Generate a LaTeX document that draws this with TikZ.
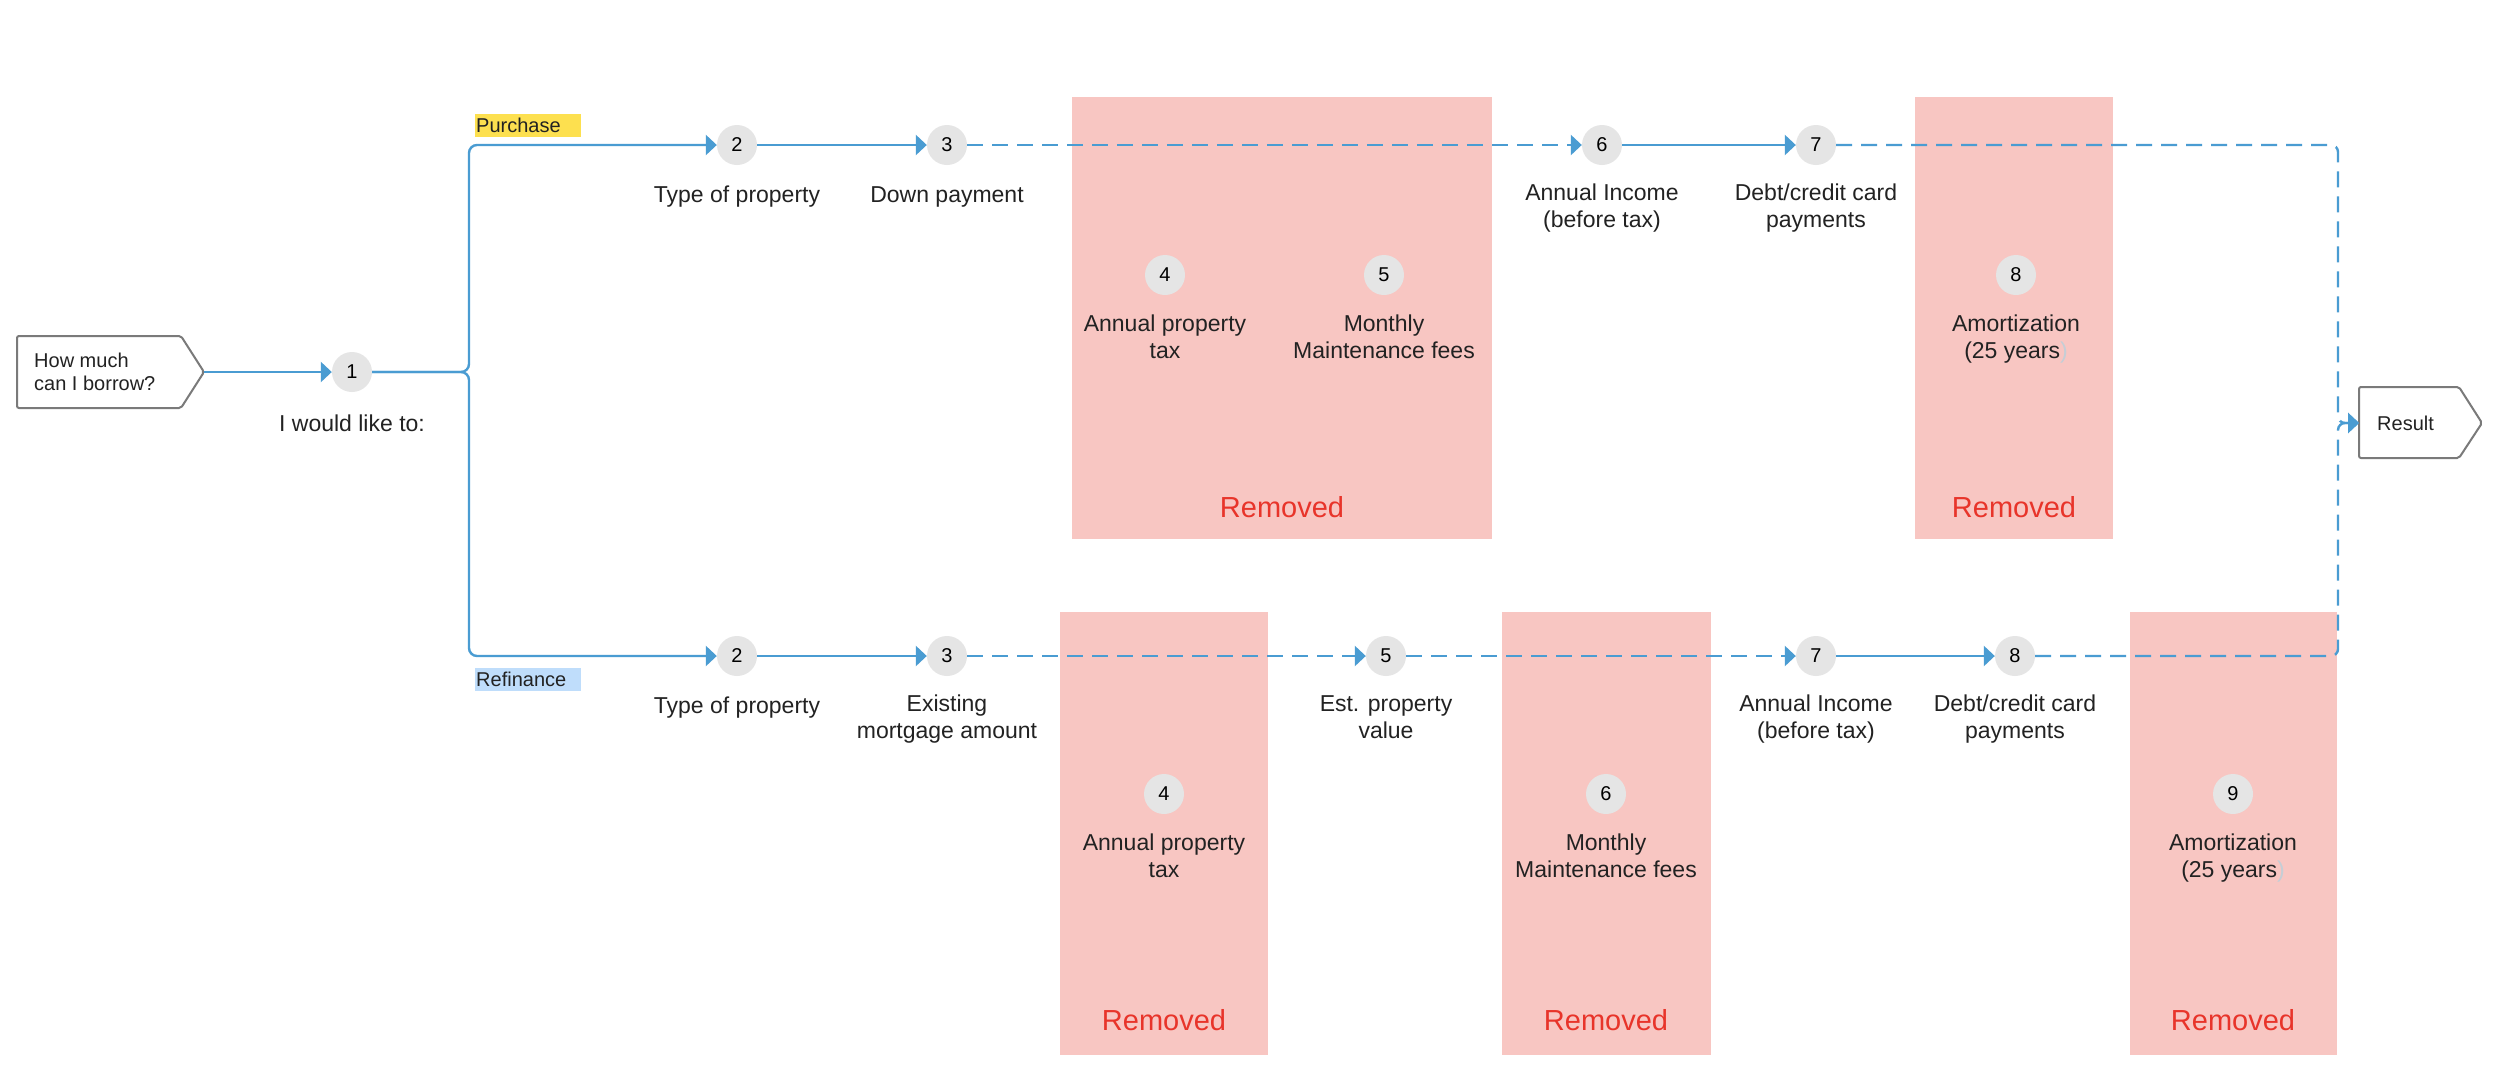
\documentclass[tikz,border=0pt]{standalone}
\usepackage{fontspec}
\setmainfont{Liberation Sans}
\usetikzlibrary{arrows.meta}
\definecolor{flowblue}{HTML}{4A9CD2}
\definecolor{numgray}{HTML}{E5E5E5}
\definecolor{zonered}{HTML}{F8C6C2}
\definecolor{remred}{HTML}{E8342A}
\definecolor{tagyellow}{HTML}{FDE04F}
\definecolor{tagblue}{HTML}{BFDDFB}
\definecolor{txt}{HTML}{222222}
\definecolor{boxgray}{HTML}{7A7A7A}
\definecolor{faint}{HTML}{C5CED6}
\begin{document}
\begin{tikzpicture}[x=1pt,y=-1pt,
  num/.style={circle, fill=numgray, minimum size=40pt, inner sep=0pt, text=black, font=\fontsize{20}{24}\selectfont},
  lbl/.style={align=center, anchor=north, inner sep=0pt, text=txt, font=\fontsize{23}{27}\selectfont, execute at begin node={\rule{0pt}{18pt}}},
  removed/.style={inner sep=0pt, text=remred, font=\fontsize{29}{34}\selectfont},
  redzone/.style={fill=zonered, draw=none},
  tag/.style={anchor=north west, inner xsep=1pt, inner ysep=0pt, minimum height=23pt, text width=104pt, align=left, text=txt, font=\fontsize{20}{24}\selectfont},
  termbox/.style={draw=boxgray, fill=white, line width=2pt, rounded corners=2pt},
  connector/.style={draw=flowblue, line width=2.4pt},
  flow/.style={connector, -{Triangle[length=11pt,width=20pt]}},
  dflow/.style={flow, dash pattern=on 16pt off 9pt},
]
\useasboundingbox (0,0) rectangle (2500,1085);
\fill[white] (0,0) rectangle (2500,1085);

% removed zones
\fill[redzone] (1072,97) rectangle (1492,539);
\fill[redzone] (1915,97) rectangle (2113,539);
\fill[redzone] (1060,612) rectangle (1268,1055);
\fill[redzone] (1502,612) rectangle (1711,1055);
\fill[redzone] (2130,612) rectangle (2337,1055);

\node[removed] (remA) at (1282,507) {Removed};
\node[removed] (remB) at (2014,507) {Removed};
\node[removed] (remC) at (1164,1020) {Removed};
\node[removed] (remD) at (1606,1020) {Removed};
\node[removed] (remE) at (2233,1020) {Removed};

% start and result boxes
\draw[termbox] (17,336) -- (181,336) -- (204,372) -- (181,408) -- (17,408) -- cycle;
\coordinate (start) at (204,372);
\node[anchor=west, align=left, inner sep=0pt, text=txt, font=\fontsize{20}{23}\selectfont] (q) at (34,372) {How much\\can I borrow?};

\draw[termbox] (2359,387) -- (2459,387) -- (2482,423) -- (2459,458) -- (2359,458) -- cycle;
\coordinate (result) at (2359,423);
\node[anchor=west, inner sep=0pt, text=txt, font=\fontsize{20}{24}\selectfont] (restext) at (2377,423) {Result};

% tags
\node[tag, fill=tagyellow] (purch) at (475,114) {Purchase};
\node[tag, fill=tagblue] (refin) at (475,668) {Refinance};

% step 1
\node[num] (n1) at (352,372) {1};
\node[inner sep=0pt, text=txt, font=\fontsize{23}{27}\selectfont] (n1l) at (352,423) {I would like to:};

% top row
\node[num] (t2) at (737,145) {2};
\node[num] (t3) at (947,145) {3};
\node[num] (t4) at (1165,275) {4};
\node[num] (t5) at (1384,275) {5};
\node[num] (t6) at (1602,145) {6};
\node[num] (t7) at (1816,145) {7};
\node[num] (t8) at (2016,275) {8};

\node[lbl] (t2l) at (737,184) {Type of property};
\node[lbl] (t3l) at (947,184) {Down payment};
\node[lbl] (t4l) at (1165,315) {Annual property\\tax};
\node[lbl] (t5l) at (1384,315) {Monthly\\Maintenance fees};
\node[lbl] (t6l) at (1602,184) {Annual Income\\(before tax)};
\node[lbl] (t7l) at (1816,184) {Debt/credit card\\payments};
\node[lbl] (t8l) at (2016,315) {Amortization\\(25 years{\color{faint})}};

% bottom row
\node[num] (b2) at (737,656) {2};
\node[num] (b3) at (947,656) {3};
\node[num] (b4) at (1164,794) {4};
\node[num] (b5) at (1386,656) {5};
\node[num] (b6) at (1606,794) {6};
\node[num] (b7) at (1816,656) {7};
\node[num] (b8) at (2015,656) {8};
\node[num] (b9) at (2233,794) {9};

\node[lbl] (b2l) at (737,695) {Type of property};
\node[lbl] (b3l) at (947,695) {Existing\\mortgage amount};
\node[lbl] (b4l) at (1164,834) {Annual property\\tax};
\node[lbl] (b5l) at (1386,695) {Est. property\\value};
\node[lbl] (b6l) at (1606,834) {Monthly\\Maintenance fees};
\node[lbl] (b7l) at (1816,695) {Annual Income\\(before tax)};
\node[lbl] (b8l) at (2015,695) {Debt/credit card\\payments};
\node[lbl] (b9l) at (2233,834) {Amortization\\(25 years{\color{faint})}};

% connectors
\coordinate (split) at (469,372);
\coordinate (rmid) at (2338,423);
\draw[flow] (start) -- (n1);
\draw[flow, rounded corners=8pt] (n1) -- (split) |- (t2);
\draw[flow, rounded corners=8pt] (n1) -- (split) |- (b2);

\draw[flow] (t2) -- (t3);
\draw[dflow] (t3) -- (t6);
\draw[flow] (t6) -- (t7);
\draw[dflow, rounded corners=7pt] (t7) -| (rmid) -- (result);

\draw[flow] (b2) -- (b3);
\draw[dflow] (b3) -- (b5);
\draw[dflow] (b5) -- (b7);
\draw[flow] (b7) -- (b8);
\draw[dflow, rounded corners=7pt] (b8) -| (rmid) -- (result);
\end{tikzpicture}
\end{document}
